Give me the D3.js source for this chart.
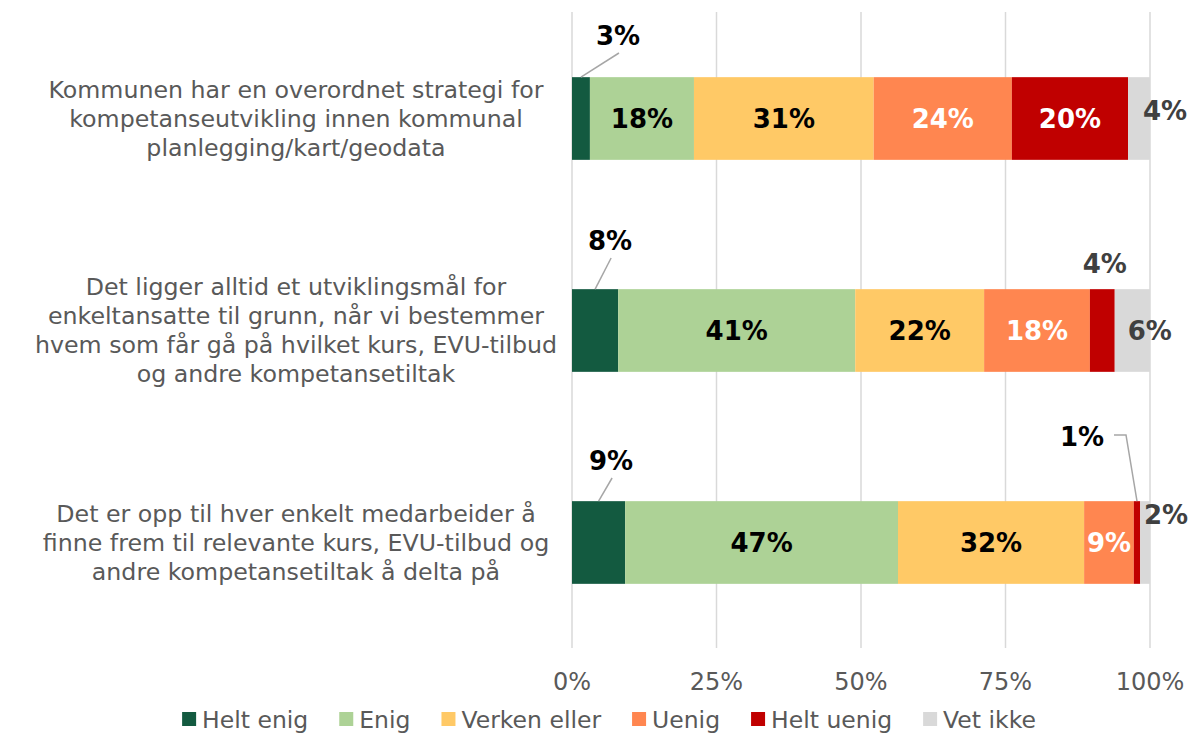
<!DOCTYPE html>
<html>
<head>
<meta charset="utf-8">
<script src="https://cdn.jsdelivr.net/npm/d3@7"></script>
<style>
  body { margin: 0; background: #fff; }
  svg { display: block; font-family: "DejaVu Sans", Verdana, sans-serif; }
</style>
</head>
<body>
<svg id="chart" width="1191" height="734"></svg>
<script>
// data
var categories = [
  ["Kommunen har en overordnet strategi for", "kompetanseutvikling innen kommunal", "planlegging/kart/geodata"],
  ["Det ligger alltid et utviklingsmål for", "enkeltansatte til grunn, når vi bestemmer", "hvem som får gå på hvilket kurs, EVU-tilbud", "og andre kompetansetiltak"],
  ["Det er opp til hver enkelt medarbeider å", "finne frem til relevante kurs, EVU-tilbud og", "andre kompetansetiltak å delta på"]
];
var seriesNames = ["Helt enig", "Enig", "Verken eller", "Uenig", "Helt uenig", "Vet ikke"];
var heltEnig  = [3.1, 8.0, 9.2];
var enig      = [18.0, 41.0, 47.2];
var verken    = [31.1, 22.3, 32.2];
var uenig     = [23.9, 18.3, 8.6];
var heltUenig = [20.1, 4.3, 1.1];
var vetIkke   = [3.8, 6.1, 1.7];
var xTicks = [0, 25, 50, 75, 100];

var colors = ["#135A40", "#ADD296", "#FFC966", "#FF8650", "#C00000", "#D9D9D9"];
var labelColors = ["#000", "#000", "#000", "#fff", "#fff", "#404040"];

// labels that sit outside the bar (offset from segment centre / bar centre)
var outside = {
  "0|0": {dx: 37, dy: -82.5, line: "diag", color: "#000"},
  "0|1": {dx: 15, dy: -89.5, line: "diag", color: "#000"},
  "0|2": {dx: 12.5, dy: -81.5, line: "diag", color: "#000"},
  "4|1": {dx: 2.5, dy: -66.5, line: null, color: "#404040"},
  "4|2": {dx: -55, dy: -105.5, line: "elbow", color: "#000"},
  "5|0": {dx: 26, dy: -7.5, line: null, color: "#404040"},
  "5|1": {dx: 17.5, dy: 0, line: null, color: "#404040"},
  "5|2": {dx: 21, dy: -27.5, line: null, color: "#404040"}
};

var seriesValues = [heltEnig, enig, verken, uenig, heltUenig, vetIkke];
var rows = categories.map(function(c, i) {
  var r = {idx: i};
  seriesNames.forEach(function(s, j) { r[s] = seriesValues[j][i]; });
  return r;
});
var stacked = d3.stack().keys(seriesNames)(rows);

var svg = d3.select("#chart");
var x = d3.scaleLinear().domain([0, 100]).range([572, 1150]);
var y = d3.scaleBand().domain([0, 1, 2]).range([12.5, 648.5]).paddingInner(0.61).paddingOuter(0.305);

// grid
svg.append("g").selectAll("line").data(xTicks).enter().append("line")
  .attr("x1", d => x(d)).attr("x2", d => x(d))
  .attr("y1", 12).attr("y2", 648)
  .attr("stroke", "#D9D9D9").attr("stroke-width", 1.5);

// axis labels
svg.append("g").selectAll("text").data(xTicks).enter().append("text")
  .attr("x", d => x(d)).attr("y", 682)
  .attr("text-anchor", "middle").attr("dominant-baseline", "central")
  .attr("fill", "#595959").style("font-size", "24px")
  .text(d => d + "%");

// category labels
var cat = svg.append("g").selectAll("text").data(categories).enter().append("text")
  .attr("text-anchor", "middle").attr("fill", "#595959").style("font-size", "23.7px");
cat.each(function(lines, i) {
  var cy = y(i) + y.bandwidth() / 2;
  var lh = 29;
  var t0 = cy - (lines.length - 1) * lh / 2;
  d3.select(this).selectAll("tspan").data(lines).enter().append("tspan")
    .attr("x", 296).attr("y", (d, k) => t0 + k * lh)
    .attr("dominant-baseline", "central")
    .text(d => d);
});

// bars
var layers = svg.append("g").selectAll("g").data(stacked).enter().append("g")
  .attr("fill", (d, i) => colors[i]);
layers.selectAll("rect").data(d => d).enter().append("rect")
  .attr("x", d => x(d[0])).attr("width", d => x(d[1]) - x(d[0]))
  .attr("y", d => y(d.data.idx)).attr("height", y.bandwidth());

// data labels
var lab = svg.append("g").style("font-size", "26px").style("font-weight", "bold");
stacked.forEach(function(layer, si) {
  layer.forEach(function(d) {
    var ci = d.data.idx;
    var v = d[1] - d[0];
    var cx = (x(d[0]) + x(d[1])) / 2;
    var cy = y(ci) + y.bandwidth() / 2;
    var o = outside[si + "|" + ci];
    var txt = Math.round(v) + "%";
    if (o) {
      var lx = cx + o.dx, ly = cy + o.dy;
      if (o.line === "diag") {
        lab.append("line").attr("x1", cx).attr("y1", y(ci))
          .attr("x2", lx + 1).attr("y2", ly + 17)
          .attr("stroke", "#A6A6A6").attr("stroke-width", 1.5);
      } else if (o.line === "elbow") {
        lab.append("polyline")
          .attr("points", [[cx, y(ci)], [cx - 11, ly - 2], [cx - 23, ly - 2]].map(p => p.join(",")).join(" "))
          .attr("fill", "none").attr("stroke", "#A6A6A6").attr("stroke-width", 1.5);
      }
      lab.append("text").attr("x", lx).attr("y", ly)
        .attr("text-anchor", "middle").attr("dominant-baseline", "central")
        .attr("fill", o.color).text(txt);
    } else {
      lab.append("text").attr("x", cx).attr("y", cy)
        .attr("text-anchor", "middle").attr("dominant-baseline", "central")
        .attr("fill", labelColors[si]).text(txt);
    }
  });
});

// legend
var leg = svg.append("g");
var items = leg.selectAll("g").data(seriesNames).enter().append("g");
items.append("rect").attr("width", 14).attr("height", 14).attr("y", 712)
  .attr("fill", (d, i) => colors[i]);
items.append("text").attr("x", 20).attr("y", 720)
  .attr("dominant-baseline", "central").attr("fill", "#595959")
  .style("font-size", "23.5px").text(d => d);
var pos = 0, offs = [];
items.each(function() {
  offs.push(pos);
  pos += 20 + this.querySelector("text").getComputedTextLength() + 31;
});
var total = pos - 31;
var start = 609 - total / 2;
items.attr("transform", (d, i) => "translate(" + (start + offs[i]) + ",0)");
</script>
</body>
</html>
